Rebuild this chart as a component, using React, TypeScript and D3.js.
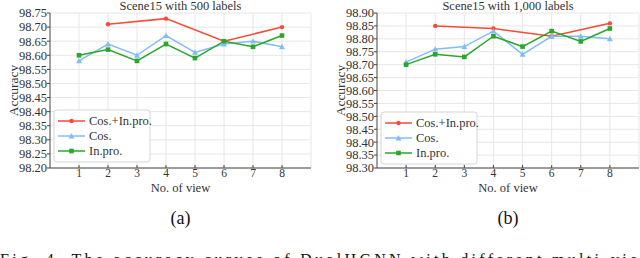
import React from 'react';
import * as d3 from 'd3';

const views = [1, 2, 3, 4, 5, 6, 7, 8];
const evenViews = [2, 4, 6, 8];

// Scene15 with 500 labels
const a_both = [98.71, 98.73, 98.65, 98.70];
const a_cos = [98.58, 98.64, 98.60, 98.67, 98.61, 98.64, 98.65, 98.63];
const a_inpro = [98.60, 98.62, 98.58, 98.64, 98.59, 98.65, 98.63, 98.67];
const a_ticks = [98.20, 98.25, 98.30, 98.35, 98.40, 98.45, 98.50, 98.55, 98.60, 98.65, 98.70, 98.75];

// Scene15 with 1,000 labels
const b_both = [98.85, 98.84, 98.81, 98.86];
const b_cos = [98.71, 98.76, 98.77, 98.83, 98.74, 98.81, 98.81, 98.80];
const b_inpro = [98.70, 98.74, 98.73, 98.81, 98.77, 98.83, 98.79, 98.84];
const b_ticks = [98.30, 98.35, 98.40, 98.45, 98.50, 98.55, 98.60, 98.65, 98.70, 98.75, 98.80, 98.85, 98.90];

const legendNames = ['Cos.+In.pro.', 'Cos.', 'In.pro.'];
const RED = '#f94a38';
const BLUE = '#80bdf7';
const GREEN = '#2aa62a';
const FONT = "'Liberation Serif', 'DejaVu Serif', serif";

type Pt = { x: number; y: number };

const Marker: React.FC<{ kind: string; x: number; y: number; color: string }> = ({ kind, x, y, color }) => {
  if (kind === 'circle') return <circle cx={x} cy={y} r={2.2} fill={color} />;
  if (kind === 'tri') {
    const s = 3;
    return <path d={`M${x},${y - s}L${x + s},${y + s * 0.8}L${x - s},${y + s * 0.8}Z`} fill={color} />;
  }
  return <rect x={x - 2.3} y={y - 2.3} width={4.6} height={4.6} fill={color} />;
};

interface PanelProps {
  left: number;
  right: number;
  title: string;
  ticks: number[];
  both: number[];
  cos: number[];
  inpro: number[];
  labelX: number;
  legendTop: number;
  sub: string;
}

const Panel: React.FC<PanelProps> = ({ left, right, title, ticks, both, cos, inpro, labelX, legendTop, sub }) => {
  const top = 13;
  const bottom = 168;
  const x = d3.scaleLinear().domain([0, 9]).range([left, right]);
  const y = d3.scaleLinear().domain([ticks[0], ticks[ticks.length - 1]]).range([bottom, top]);
  const line = d3.line<Pt>().x(d => d.x).y(d => d.y);

  const series = [
    { pts: evenViews.map((v, i) => ({ x: x(v), y: y(both[i]) })), color: RED, kind: 'circle' },
    { pts: views.map((v, i) => ({ x: x(v), y: y(cos[i]) })), color: BLUE, kind: 'tri' },
    { pts: views.map((v, i) => ({ x: x(v), y: y(inpro[i]) })), color: GREEN, kind: 'square' },
  ];

  const lx = left + 4;
  const cx = (left + right) / 2;

  return (
    <g style={{ fontFamily: FONT }} fill="#333">
      {/* grid */}
      {ticks.map(t => (
        <line key={'gy' + t} x1={left} x2={right} y1={y(t)} y2={y(t)} stroke="#e6e6e6" strokeWidth={1} />
      ))}
      {views.map(v => (
        <line key={'gx' + v} x1={x(v)} x2={x(v)} y1={top} y2={bottom} stroke="#e6e6e6" strokeWidth={1} />
      ))}
      <line x1={right} x2={right} y1={top} y2={bottom} stroke="#e6e6e6" />
      {/* series */}
      {series.map((s, i) => (
        <g key={'s' + i}>
          <path d={line(s.pts) || ''} fill="none" stroke={s.color} strokeWidth={1.5} />
          {s.pts.map((p, j) => (
            <Marker key={j} kind={s.kind} x={p.x} y={p.y} color={s.color} />
          ))}
        </g>
      ))}
      {/* spines */}
      <line x1={left} x2={left} y1={top} y2={bottom} stroke="#444" strokeWidth={1} />
      <line x1={left} x2={right} y1={bottom} y2={bottom} stroke="#444" strokeWidth={1} />
      {ticks.map(t => (
        <g key={'ty' + t}>
          <line x1={left - 3} x2={left} y1={y(t)} y2={y(t)} stroke="#444" />
          <text x={left - 3} y={y(t)} dy="0.35em" textAnchor="end" fontSize={12.5}>
            {d3.format('.2f')(t)}
          </text>
        </g>
      ))}
      {views.map(v => (
        <g key={'tx' + v}>
          <line x1={x(v)} x2={x(v)} y1={bottom} y2={bottom - 3} stroke="#444" />
          <text x={x(v)} y={177} textAnchor="middle" fontSize={11.5}>
            {v}
          </text>
        </g>
      ))}
      <text x={cx} y={10} textAnchor="middle" fontSize={12.5}>{title}</text>
      <text x={cx} y={192} textAnchor="middle" fontSize={12.5}>No. of view</text>
      <text transform={`translate(${labelX},${(top + bottom) / 2}) rotate(-90)`} textAnchor="middle" fontSize={13.5}>
        Accuracy
      </text>
      {/* legend */}
      <rect x={lx} y={legendTop} width={96} height={52} rx={3} fill="#fff" stroke="#d6d6d6" />
      {series.map((s, i) => {
        const ry = legendTop + 11 + i * 15;
        return (
          <g key={'lg' + i}>
            <line x1={lx + 4} x2={lx + 31} y1={ry} y2={ry} stroke={s.color} strokeWidth={1.5} />
            <Marker kind={s.kind} x={lx + 17.5} y={ry} color={s.color} />
            <text x={lx + 35} y={ry} dy="0.35em" fontSize={12.5}>{legendNames[i]}</text>
          </g>
        );
      })}
      <text x={cx} y={224} textAnchor="middle" fontSize={18} fill="#111">{sub}</text>
    </g>
  );
};

export default function App() {
  return (
    <svg width={640} height={258} style={{ position: 'absolute', left: 0, top: 0, background: '#fff' }}>
      <Panel left={50} right={311} title="Scene15 with 500 labels" ticks={a_ticks}
        both={a_both} cos={a_cos} inpro={a_inpro} labelX={18} legendTop={110} sub="(a)" />
      <Panel left={377} right={639} title="Scene15 with 1,000 labels" ticks={b_ticks}
        both={b_both} cos={b_cos} inpro={b_inpro} labelX={345} legendTop={112} sub="(b)" />
      {/* caption continues below the crop in the original figure */}
      <text x={0} y={265} fontSize={16} style={{ fontFamily: FONT }} fill="#111" textLength={652} lengthAdjust="spacing">
        Fig. 4.   The accuracy curves of DualHGNN with different multi-view
      </text>
    </svg>
  );
}
